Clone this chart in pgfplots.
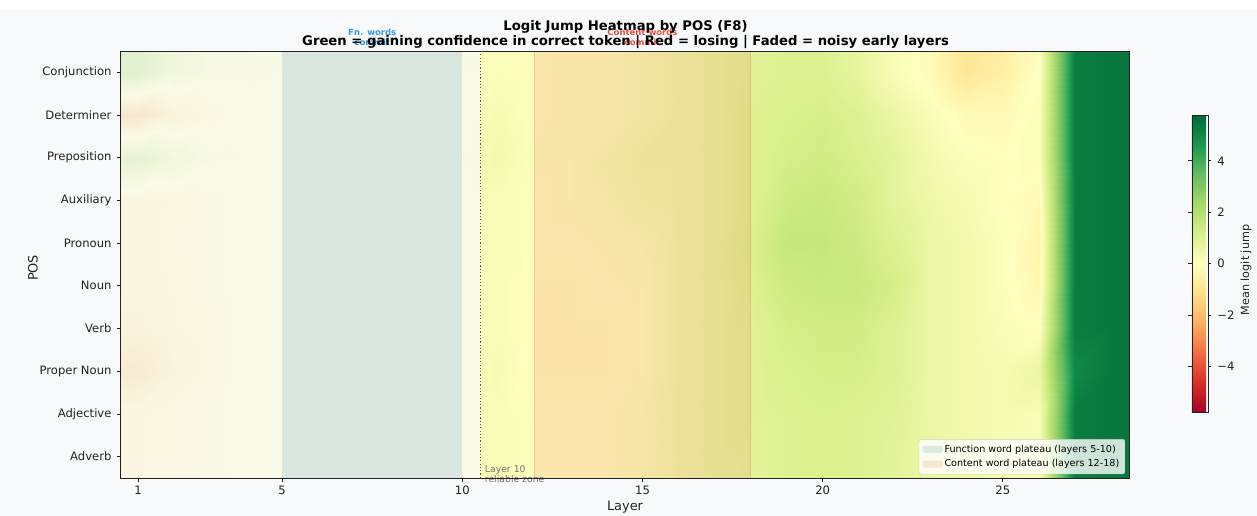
\documentclass[border=0pt]{standalone}
\usepackage{fontspec}
\setmainfont{DejaVu Sans}
\usepackage{pgfplots}
\pgfplotsset{compat=1.18}
\definecolor{figbg}{RGB}{248,249,250}
\definecolor{fnblue}{RGB}{41,128,185}
\definecolor{fntext}{RGB}{52,152,219}
\definecolor{cwred}{RGB}{231,76,60}
\definecolor{axcol}{RGB}{34,34,34}
\pgfplotsset{colormap={RdYlGn}{rgb255=(165,0,38) rgb255=(215,48,39) rgb255=(244,109,67) rgb255=(253,174,97) rgb255=(254,224,139) rgb255=(255,255,191) rgb255=(217,239,139) rgb255=(166,217,106) rgb255=(102,189,99) rgb255=(26,152,80) rgb255=(0,104,55)}}
\pgfplotsset{patchlegend/.style={legend image code/.code={\fill[##1,draw=none] (0pt,-3.5pt) rectangle (20pt,3.5pt);}}}
\begin{document}
\begin{tikzpicture}[x=1pt,y=1pt]
\path[use as bounding box] (0,0) rectangle (1257,516);
\fill[figbg] (0,0) rectangle (1257,516);
\fill[white] (0,506) rectangle (1257,516);
\begin{axis}[
  at={(120pt,38pt)}, anchor=south west,
  scale only axis, width=1009pt, height=427pt,
  xmin=0.5, xmax=28.5, ymin=-0.5, ymax=9.5, y dir=reverse,
  axis on top, clip=false,
  xtick={1,5,10,15,20,25}, ytick={0,1,2,3,4,5,6,7,8,9},
  yticklabels={Conjunction,Determiner,Preposition,Auxiliary,Pronoun,Noun,Verb,Proper Noun,Adjective,Adverb},
  xtick pos=bottom, ytick pos=left,
  tick align=outside, major tick length=3.5pt,
  tick style={axcol, line width=0.8pt},
  ticklabel style={font=\fontsize{11.6}{13.9}\selectfont, text=axcol},
  yticklabel style={xshift=-1.5pt},
  xticklabel style={yshift=-1pt},
  /pgf/number format/assume math mode=true,
  axis line style={axcol, line width=0.8pt},
  xlabel={Layer}, ylabel={POS},
  xlabel style={at={(axis description cs:0.5005,-0.068)}, anchor=center, font=\fontsize{12.9}{15}\selectfont, text=axcol},
  ylabel style={at={(axis description cs:-0.0862,0.492)}, anchor=center, font=\fontsize{12.9}{15}\selectfont, text=axcol},
  colormap name=RdYlGn, point meta min=-5.78, point meta max=5.78,
  colorbar,
  colorbar style={
    at={(1.0624,0.502)}, anchor=west,
    scale only axis, width=16pt, height=297pt,
    ytick={-4,-2,0,2,4}, yticklabels={−4,−2,0,2,4},
    yticklabel pos=right, tick align=outside, major tick length=3.5pt,
    tick style={axcol, line width=0.8pt},
    ticklabel style={font=\fontsize{11.6}{13.9}\selectfont, text=axcol},
    yticklabel style={xshift=2.5pt},
    axis line style={axcol, line width=0.8pt},
  },
  legend cell align=left,
  legend style={at={(0.996,0.009)}, anchor=south east, font=\fontsize{9.6}{11.6}\selectfont,
    fill=white, fill opacity=0.8, text opacity=1, draw=black!20, rounded corners=2pt,
    row sep=2pt, inner xsep=3.5pt, inner ysep=3.5pt},
]
\addplot[surf, shader=interp, mesh/cols=30, point meta=explicit, forget plot] coordinates {
(0.5,-0.5)[2.2] (1,-0.5)[2.2] (2,-0.5)[0.9] (3,-0.5)[0.3] (4,-0.5)[0.2] (5,-0.5)[0.1] (6,-0.5)[0.1] (7,-0.5)[0.1] (8,-0.5)[0.1] (9,-0.5)[0.1] (10,-0.5)[0.1] (11,-0.5)[0.1] (12,-0.5)[0.0] (13,-0.5)[0.1] (14,-0.5)[0.1] (15,-0.5)[0.3] (16,-0.5)[0.5] (17,-0.5)[0.7] (18,-0.5)[0.9] (19,-0.5)[1.0] (20,-0.5)[1.0] (21,-0.5)[0.7] (22,-0.5)[0.2] (23,-0.5)[-0.2] (24,-0.5)[-0.9] (25,-0.5)[-0.6] (26,-0.5)[0.0] (27,-0.5)[5.3] (28,-0.5)[5.4] (28.5,-0.5)[5.4]
(0.5,0)[2.2] (1,0)[2.2] (2,0)[0.9] (3,0)[0.3] (4,0)[0.2] (5,0)[0.1] (6,0)[0.1] (7,0)[0.1] (8,0)[0.1] (9,0)[0.1] (10,0)[0.1] (11,0)[0.1] (12,0)[0.0] (13,0)[0.1] (14,0)[0.1] (15,0)[0.3] (16,0)[0.5] (17,0)[0.7] (18,0)[0.9] (19,0)[1.0] (20,0)[1.0] (21,0)[0.7] (22,0)[0.2] (23,0)[-0.2] (24,0)[-0.9] (25,0)[-0.6] (26,0)[0.0] (27,0)[5.3] (28,0)[5.4] (28.5,0)[5.4]
(0.5,1)[-2.0] (1,1)[-2.0] (2,1)[-0.9] (3,1)[-0.3] (4,1)[0.0] (5,1)[0.0] (6,1)[0.0] (7,1)[0.0] (8,1)[0.0] (9,1)[0.0] (10,1)[0.0] (11,1)[0.3] (12,1)[0.0] (13,1)[0.1] (14,1)[0.1] (15,1)[0.3] (16,1)[0.5] (17,1)[0.7] (18,1)[1.0] (19,1)[1.1] (20,1)[1.2] (21,1)[1.0] (22,1)[0.6] (23,1)[0.2] (24,1)[-0.2] (25,1)[-0.2] (26,1)[0.1] (27,1)[5.3] (28,1)[5.4] (28.5,1)[5.4]
(0.5,2)[1.8] (1,2)[1.8] (2,2)[0.8] (3,2)[0.2] (4,2)[0.1] (5,2)[0.1] (6,2)[0.1] (7,2)[0.1] (8,2)[0.1] (9,2)[0.1] (10,2)[0.1] (11,2)[0.4] (12,2)[0.1] (13,2)[0.1] (14,2)[0.3] (15,2)[0.5] (16,2)[0.5] (17,2)[0.7] (18,2)[1.0] (19,2)[1.2] (20,2)[1.3] (21,2)[1.1] (22,2)[0.8] (23,2)[0.4] (24,2)[0.1] (25,2)[0.0] (26,2)[0.1] (27,2)[5.3] (28,2)[5.4] (28.5,2)[5.4]
(0.5,3)[-0.6] (1,3)[-0.6] (2,3)[-0.4] (3,3)[-0.2] (4,3)[0.0] (5,3)[0.0] (6,3)[0.0] (7,3)[0.0] (8,3)[0.0] (9,3)[0.0] (10,3)[0.0] (11,3)[0.2] (12,3)[0.0] (13,3)[0.1] (14,3)[0.2] (15,3)[0.4] (16,3)[0.5] (17,3)[0.7] (18,3)[1.0] (19,3)[1.4] (20,3)[1.5] (21,3)[1.3] (22,3)[0.8] (23,3)[0.5] (24,3)[0.3] (25,3)[0.0] (26,3)[-0.2] (27,3)[5.3] (28,3)[5.4] (28.5,3)[5.4]
(0.5,4)[-0.6] (1,4)[-0.6] (2,4)[-0.3] (3,4)[-0.2] (4,4)[0.0] (5,4)[0.0] (6,4)[0.0] (7,4)[0.0] (8,4)[0.0] (9,4)[0.0] (10,4)[0.0] (11,4)[0.2] (12,4)[0.0] (13,4)[0.0] (14,4)[0.1] (15,4)[0.2] (16,4)[0.5] (17,4)[0.7] (18,4)[1.1] (19,4)[1.6] (20,4)[1.6] (21,4)[1.4] (22,4)[1.0] (23,4)[0.6] (24,4)[0.4] (25,4)[0.1] (26,4)[-0.4] (27,4)[5.3] (28,4)[5.4] (28.5,4)[5.4]
(0.5,5)[-0.7] (1,5)[-0.7] (2,5)[-0.4] (3,5)[-0.2] (4,5)[0.0] (5,5)[0.0] (6,5)[0.0] (7,5)[0.0] (8,5)[0.0] (9,5)[0.0] (10,5)[0.0] (11,5)[0.2] (12,5)[-0.1] (13,5)[-0.1] (14,5)[0.0] (15,5)[0.1] (16,5)[0.5] (17,5)[0.7] (18,5)[1.0] (19,5)[1.4] (20,5)[1.5] (21,5)[1.5] (22,5)[1.2] (23,5)[0.6] (24,5)[0.4] (25,5)[0.1] (26,5)[-0.3] (27,5)[5.3] (28,5)[5.4] (28.5,5)[5.4]
(0.5,6)[-0.9] (1,6)[-0.9] (2,6)[-0.5] (3,6)[-0.3] (4,6)[0.0] (5,6)[0.0] (6,6)[0.0] (7,6)[0.0] (8,6)[0.0] (9,6)[0.0] (10,6)[0.0] (11,6)[0.2] (12,6)[-0.1] (13,6)[-0.1] (14,6)[-0.1] (15,6)[0.1] (16,6)[0.5] (17,6)[0.7] (18,6)[0.9] (19,6)[1.2] (20,6)[1.3] (21,6)[1.3] (22,6)[1.0] (23,6)[0.6] (24,6)[0.4] (25,6)[0.2] (26,6)[0.0] (27,6)[5.3] (28,6)[5.4] (28.5,6)[5.4]
(0.5,7)[-1.7] (1,7)[-1.7] (2,7)[-0.8] (3,7)[-0.3] (4,7)[0.0] (5,7)[0.0] (6,7)[0.0] (7,7)[0.0] (8,7)[0.0] (9,7)[0.0] (10,7)[0.0] (11,7)[0.3] (12,7)[-0.1] (13,7)[-0.1] (14,7)[-0.1] (15,7)[0.1] (16,7)[0.5] (17,7)[0.7] (18,7)[0.9] (19,7)[1.1] (20,7)[1.2] (21,7)[1.2] (22,7)[1.0] (23,7)[0.6] (24,7)[0.4] (25,7)[0.3] (26,7)[0.6] (27,7)[5.0] (28,7)[5.4] (28.5,7)[5.4]
(0.5,8)[-0.5] (1,8)[-0.5] (2,8)[-0.3] (3,8)[-0.2] (4,8)[0.0] (5,8)[0.0] (6,8)[0.0] (7,8)[0.0] (8,8)[0.0] (9,8)[0.0] (10,8)[0.0] (11,8)[0.2] (12,8)[0.0] (13,8)[0.0] (14,8)[0.0] (15,8)[0.2] (16,8)[0.5] (17,8)[0.7] (18,8)[0.9] (19,8)[1.0] (20,8)[1.1] (21,8)[1.0] (22,8)[0.9] (23,8)[0.6] (24,8)[0.4] (25,8)[0.3] (26,8)[0.2] (27,8)[5.3] (28,8)[5.4] (28.5,8)[5.4]
(0.5,9)[-0.5] (1,9)[-0.5] (2,9)[-0.3] (3,9)[-0.2] (4,9)[0.0] (5,9)[0.0] (6,9)[0.0] (7,9)[0.0] (8,9)[0.0] (9,9)[0.0] (10,9)[0.0] (11,9)[0.2] (12,9)[0.0] (13,9)[0.0] (14,9)[0.0] (15,9)[0.2] (16,9)[0.5] (17,9)[0.7] (18,9)[0.8] (19,9)[1.0] (20,9)[1.1] (21,9)[1.0] (22,9)[0.8] (23,9)[0.6] (24,9)[0.4] (25,9)[0.3] (26,9)[0.2] (27,9)[5.3] (28,9)[5.4] (28.5,9)[5.4]
(0.5,9.5)[-0.5] (1,9.5)[-0.5] (2,9.5)[-0.3] (3,9.5)[-0.2] (4,9.5)[0.0] (5,9.5)[0.0] (6,9.5)[0.0] (7,9.5)[0.0] (8,9.5)[0.0] (9,9.5)[0.0] (10,9.5)[0.0] (11,9.5)[0.2] (12,9.5)[0.0] (13,9.5)[0.0] (14,9.5)[0.0] (15,9.5)[0.2] (16,9.5)[0.5] (17,9.5)[0.7] (18,9.5)[0.8] (19,9.5)[1.0] (20,9.5)[1.1] (21,9.5)[1.0] (22,9.5)[0.8] (23,9.5)[0.6] (24,9.5)[0.4] (25,9.5)[0.3] (26,9.5)[0.2] (27,9.5)[5.3] (28,9.5)[5.4] (28.5,9.5)[5.4]
};
% faded early layers
\addplot[draw=none, fill=figbg, fill opacity=0.7, forget plot] coordinates {(0.5,-0.5) (10.5,-0.5) (10.5,9.5) (0.5,9.5)} -- cycle;
% spans
\addplot[draw=none, fill=fnblue, fill opacity=0.15, area legend, patchlegend]
  coordinates {(5,-0.5) (10,-0.5) (10,9.5) (5,9.5)} -- cycle;
\addlegendentry{Function word plateau (layers 5-10)}
\addplot[draw=cwred, draw opacity=0.2, fill=cwred, fill opacity=0.13, area legend, patchlegend]
  coordinates {(12,-0.5) (18,-0.5) (18,9.5) (12,9.5)} -- cycle;
\addlegendentry{Content word plateau (layers 12-18)}
% reliable zone line
\addplot[forget plot, color=black!65, line width=1.3pt, dash pattern=on 1.2pt off 2.1pt] coordinates {(10.5,-0.5) (10.5,9.5)};
\node[font=\fontsize{9.3}{10.2}\selectfont, text=black!55, align=left, anchor=north west, inner sep=0pt] at (axis cs:10.62,9.2) {Layer 10\\reliable zone};
\node[font=\bfseries\fontsize{8.5}{10.5}\selectfont, text=fntext, align=center] at (axis cs:7.5,-0.816) {Fn. words\\commit};
\node[font=\bfseries\fontsize{8.5}{10.5}\selectfont, text=cwred, align=center] at (axis cs:15,-0.816) {Content words\\commit};
\end{axis}
\node[anchor=base, font=\bfseries\fontsize{13.2}{15}\selectfont, text=black] at (625.5,485.5) {Logit Jump Heatmap by POS (F8)};
\node[anchor=base, font=\bfseries\fontsize{13.2}{15}\selectfont, text=black] at (625.5,470) {Green = gaining confidence in correct token | Red = losing | Faded = noisy early layers};
\node[rotate=90, font=\fontsize{11.2}{13}\selectfont, text=axcol] at (1246,246) {Mean logit jump};
\end{tikzpicture}
\end{document}
